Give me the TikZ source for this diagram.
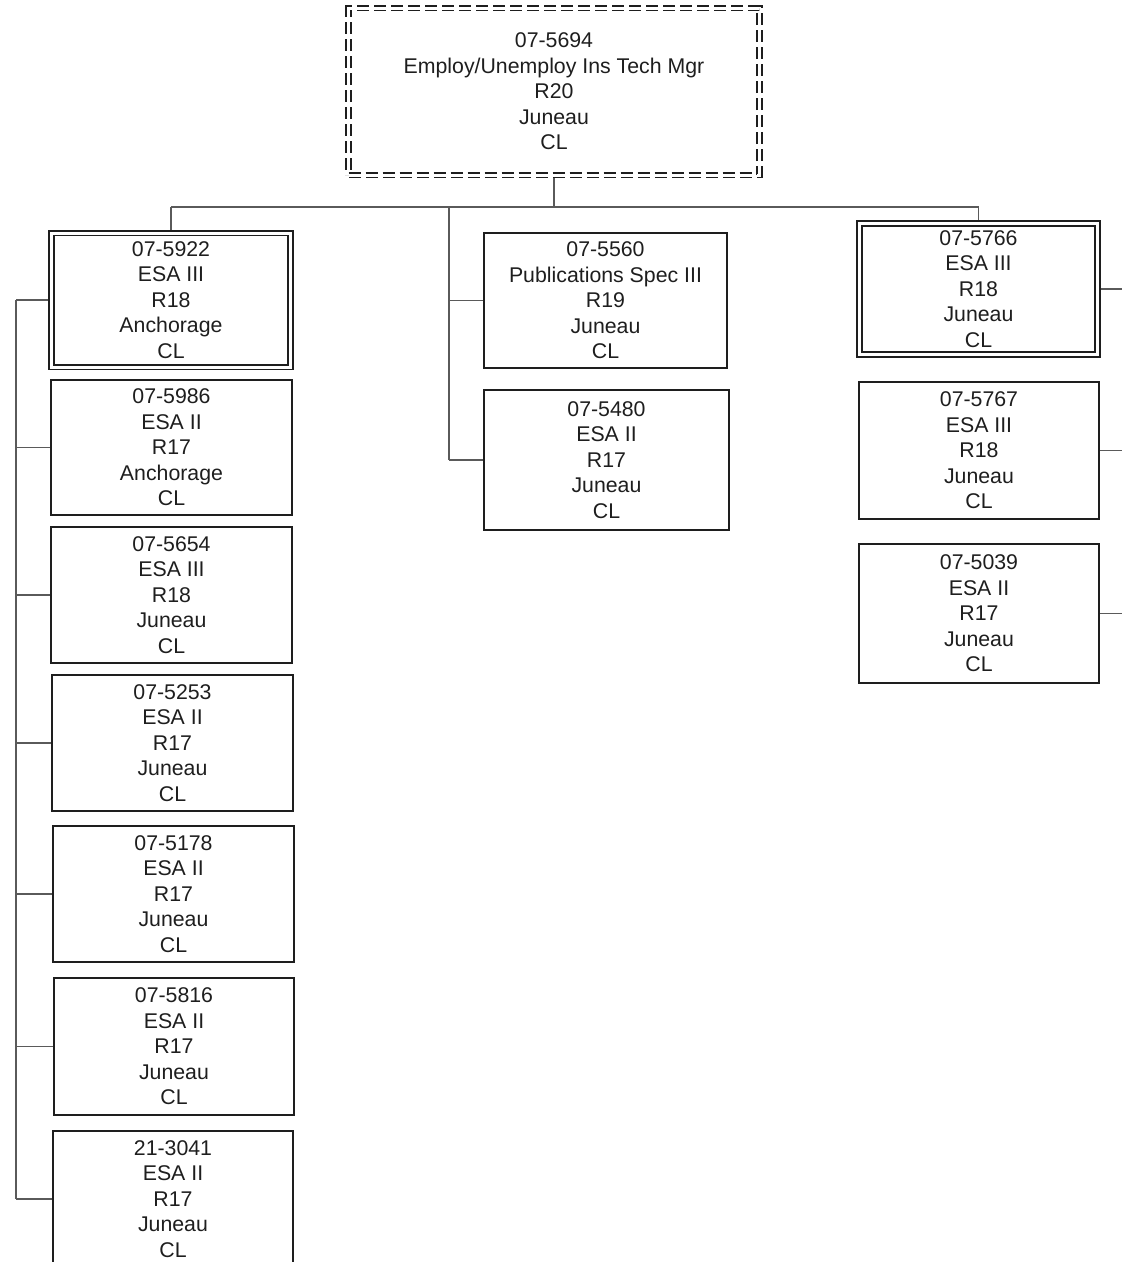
\documentclass[tikz,border=0pt]{standalone}
\usepackage{fontspec}
\setmainfont{Liberation Sans}
\usepackage{xcolor}
\usepackage{tikz}
\usetikzlibrary{positioning}
\definecolor{boxline}{HTML}{1E1E1E}
\definecolor{linkline}{HTML}{5A5A5A}
\tikzset{
  posbox/.style={draw=boxline,line width=1.7pt,align=center,inner sep=0pt,text=boxline,
    font=\fontsize{21.3}{25.5}\selectfont},
  dblbox/.style={posbox,double,double distance=3pt,line width=1.7pt,outer sep=3.2pt},
  leadbox/.style={dblbox,dash pattern=on 12pt off 5pt},
  link/.style={draw=linkline,line width=1.2pt}
}
\begin{document}
\begin{tikzpicture}[x=1pt,y=-1pt]
\useasboundingbox (0,0) rectangle (1122,1262);
% manager
\node[leadbox,minimum width=411,minimum height=167] (top) at (554,91.5)
  {07-5694\\Employ/Unemploy Ins Tech Mgr\\R20\\Juneau\\CL};
% left column
\node[dblbox,minimum width=239,minimum height=134] (b5922) at (171,300) {07-5922\\ESA III\\R18\\Anchorage\\CL};
\node[posbox,minimum width=241,minimum height=135] (b5986) at (171.5,447.5) {07-5986\\ESA II\\R17\\Anchorage\\CL};
\node[posbox,minimum width=241,minimum height=136] (b5654) at (171.5,595) {07-5654\\ESA III\\R18\\Juneau\\CL};
\node[posbox,minimum width=241,minimum height=136] (b5253) at (172.5,743) {07-5253\\ESA II\\R17\\Juneau\\CL};
\node[posbox,minimum width=241,minimum height=136] (b5178) at (173.5,894) {07-5178\\ESA II\\R17\\Juneau\\CL};
\node[posbox,minimum width=240,minimum height=137] (b5816) at (174,1046.5) {07-5816\\ESA II\\R17\\Juneau\\CL};
\node[posbox,minimum width=240,minimum height=136] (b3041) at (173,1199) {21-3041\\ESA II\\R17\\Juneau\\CL};
% middle column
\node[posbox,minimum width=243,minimum height=135] (b5560) at (605.5,300.5) {07-5560\\Publications Spec III\\R19\\Juneau\\CL};
\node[posbox,minimum width=245,minimum height=140] (b5480) at (606.5,460) {07-5480\\ESA II\\R17\\Juneau\\CL};
% right column
\node[dblbox,minimum width=238,minimum height=131] (b5766) at (978.5,289) {07-5766\\ESA III\\R18\\Juneau\\CL};
\node[posbox,minimum width=240,minimum height=137] (b5767) at (979,450.5) {07-5767\\ESA III\\R18\\Juneau\\CL};
\node[posbox,minimum width=240,minimum height=139] (b5039) at (979,613.5) {07-5039\\ESA II\\R17\\Juneau\\CL};
% connectors
\coordinate (bus) at (0,207);
\coordinate (lsp) at (16,0);
\coordinate (msp) at (449,0);
\coordinate (redge) at (1122,0);
\draw[link] (top.south) -- (top.south |- bus);
\draw[link] (b5922.north |- bus) -- (b5766.north |- bus);
\draw[link] (b5922.north |- bus) -- (b5922.north);
\draw[link] (b5766.north |- bus) -- (b5766.north);
\draw[link] (msp |- bus) -- (b5480.west -| msp);
\foreach \b in {b5560,b5480}
  \draw[link] (\b.west -| msp) -- (\b.west);
\draw[link] (b5922.west -| lsp) -- (b3041.west -| lsp);
\foreach \b in {b5922,b5986,b5654,b5253,b5178,b5816,b3041}
  \draw[link] (\b.west -| lsp) -- (\b.west);
\foreach \b in {b5766,b5767,b5039}
  \draw[link] (\b.east) -- (\b.east -| redge);
\end{tikzpicture}
\end{document}
